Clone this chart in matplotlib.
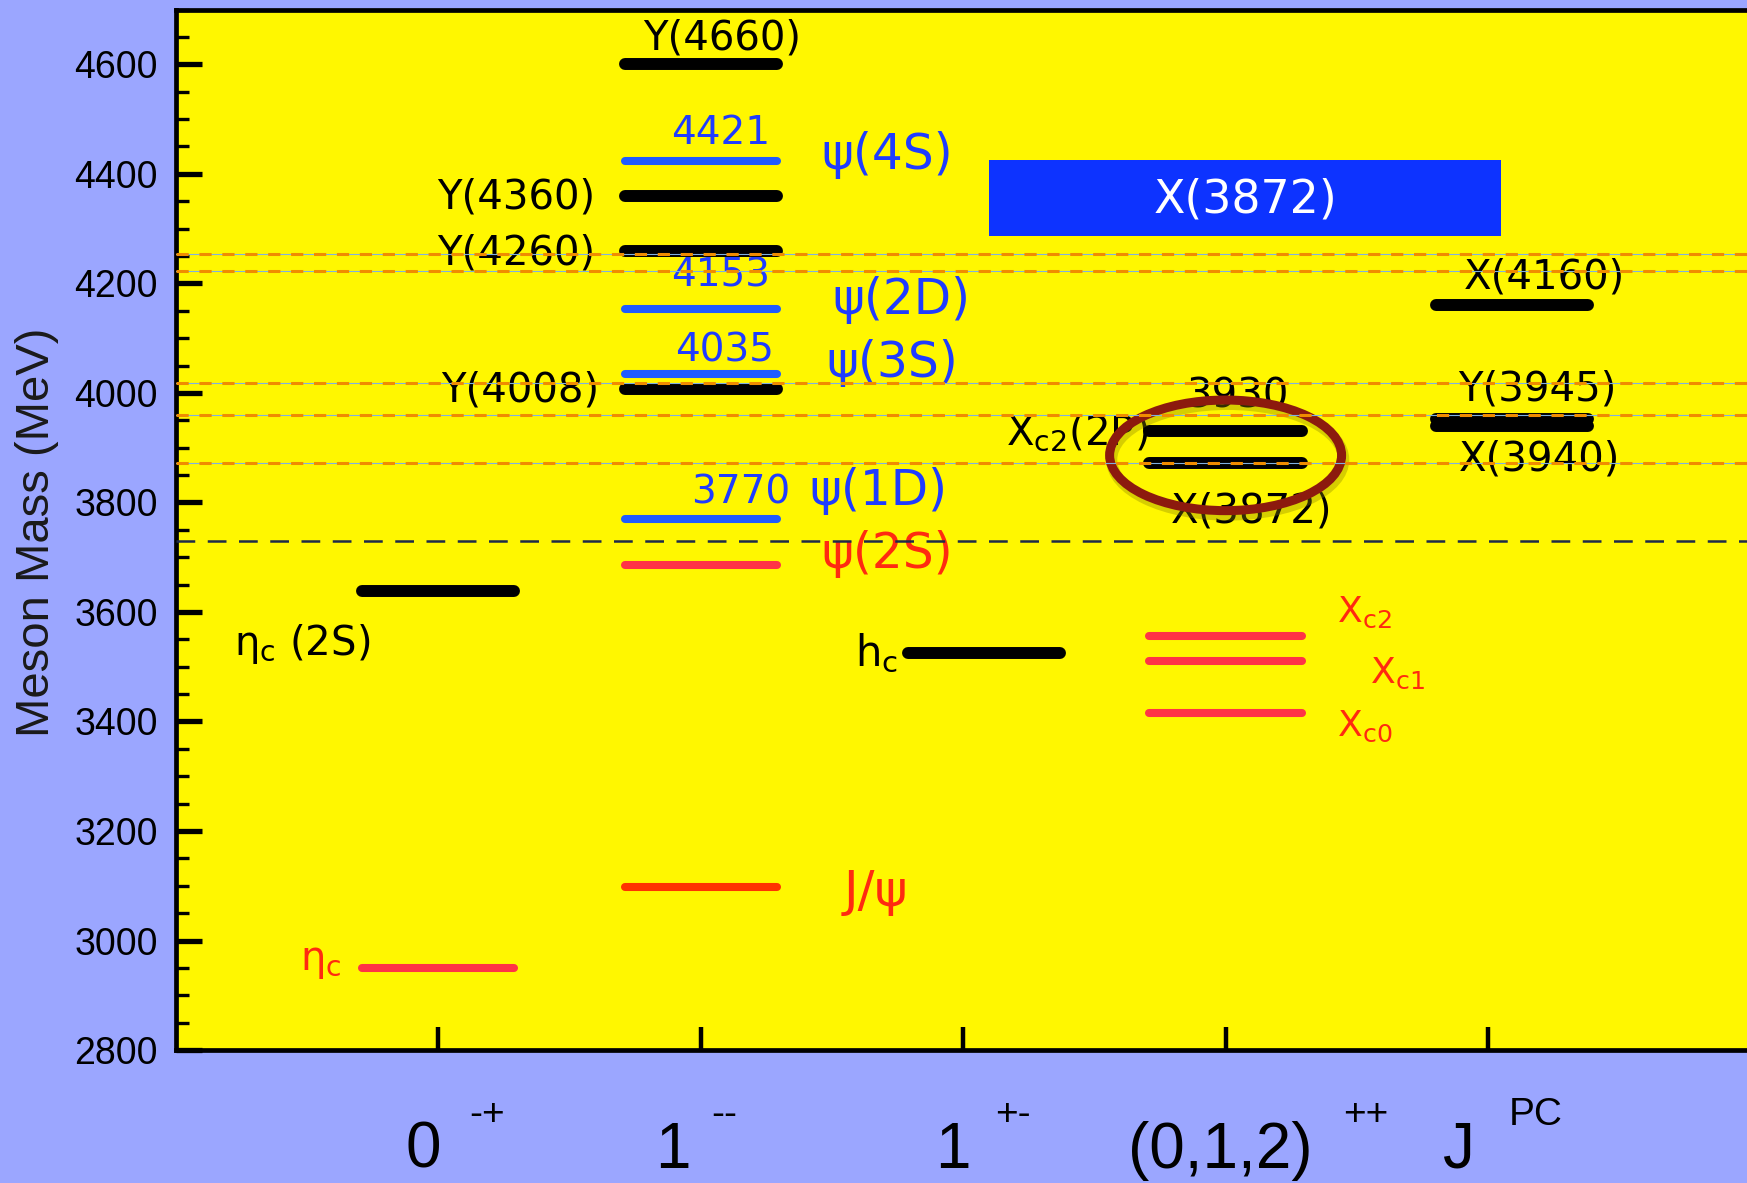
import matplotlib
matplotlib.use("Agg")
import matplotlib.pyplot as plt
from matplotlib.patches import Ellipse, Rectangle
from matplotlib.ticker import MultipleLocator

plt.rcParams['font.family'] = ['DejaVu Sans']

# J^PC columns along the x axis
col_main = ["0", "1", "1", "(0,1,2)", "J"]
col_sup = ["-+", "--", "+-", "++", "PC"]

# charmonium levels: column (1..5), mass in MeV, colour group
lvl_col = [1, 1, 2, 2, 2, 2, 2, 2, 2, 2, 2, 2, 3, 4, 4, 4, 4, 4, 5, 5, 5]
lvl_mass = [2950, 3639, 3097, 3686, 3770, 4008, 4035, 4153, 4260, 4360, 4423, 4600,
            3525, 3415, 3511, 3556, 3872, 3931, 3940, 3953, 4160]
lvl_kind = ["red", "blk", "jpsi", "red", "blue", "blk", "blue", "blue", "blk", "blk", "blue", "blk",
            "blk", "red", "red", "red", "blk", "blk", "blk", "blk", "blk"]

# open-charm thresholds
thr_orange = [3872, 3960, 4018, 4223, 4253]
thr_black = 3730

# labels: text, x, y, colour, size, ha
labels = [
    ("Y(4660)", 2.08, 4648, "black", 29, "center"),
    ("4421", 2.077, 4475, "#1f3cff", 28, "center"),
    ("ψ(4S)", 2.71, 4434, "#1f3cff", 35, "center"),
    ("Y(4360)", 1.597, 4357, "black", 29, "right"),
    ("Y(4260)", 1.597, 4255, "black", 29, "right"),
    ("4153", 2.077, 4215, "#1f3cff", 28, "center"),
    ("ψ(2D)", 2.764, 4170, "#1f3cff", 35, "center"),
    ("4035", 2.09, 4078, "#1f3cff", 28, "center"),
    ("ψ(3S)", 2.73, 4054, "#1f3cff", 35, "center"),
    ("Y(4008)", 1.614, 4005, "black", 29, "right"),
    ("3770", 2.153, 3818, "#1f3cff", 28, "center"),
    ("ψ(1D)", 2.675, 3820, "#1f3cff", 35, "center"),
    ("ψ(2S)", 2.71, 3706, "#ff2a10", 35, "center"),
    ("η$_\\mathregular{c}$ (2S)", 0.48, 3542, "black", 29, "center"),
    ("h$_\\mathregular{c}$", 2.752, 3524, "black", 30, "right"),
    ("X$_\\mathregular{c2}$", 4.425, 3599, "#ff2a10", 26, "left"),
    ("X$_\\mathregular{c1}$", 4.55, 3487, "#ff2a10", 26, "left"),
    ("X$_\\mathregular{c0}$", 4.425, 3391, "#ff2a10", 26, "left"),
    ("J/ψ", 2.667, 3089, "#ff2a10", 36, "center"),
    ("η$_\\mathregular{c}$", 0.552, 2963, "#ff2a10", 29, "center"),
    ("3930", 4.047, 3993, "black", 29, "center"),
    ("X$_\\mathregular{c2}$(2P)", 3.163, 3927, "black", 29, "left"),
    ("X(3872)", 4.098, 3784, "black", 29, "center"),
    ("X(4160)", 5.214, 4211, "black", 29, "center"),
    ("Y(3945)", 5.189, 4007, "black", 29, "center"),
    ("X(3940)", 5.197, 3879, "black", 29, "center"),
]

col_center = [1.0, 2.0, 3.08, 4.0, 5.09]
half_w = 0.29
styles = {"blk": ("black", 8.6), "red": ("#ff3346", 5.8),
          "jpsi": ("#ff3300", 5.8), "blue": ("#1f5bff", 5.8)}

fig = plt.figure(figsize=(17.47, 11.83), dpi=100)
fig.patch.set_facecolor("#9ba6ff")
ax = fig.add_axes([0.10074, 0.1124, 0.9012, 0.8795])
ax.set_facecolor("#fff700")
ax.set_xlim(0, 6)
ax.set_ylim(2800, 4700)

for c, m, k in zip(lvl_col, lvl_mass, lvl_kind):
    xc = col_center[c - 1]
    color, lw = styles[k]
    ax.plot([xc - half_w, xc + half_w], [m, m], color=color, lw=lw,
            solid_capstyle="round", zorder=4)

for m in thr_orange:
    ax.axhline(m, color="#7fb0e0", lw=0.8, zorder=7)
    ax.axhline(m, color="#f08c00", lw=2.2, dashes=(4, 3.5), zorder=7)
ax.axhline(thr_black, color="#1e2a4a", lw=1.8, dashes=(7.5, 5), zorder=7)

for txt, x, y, color, size, ha in labels:
    ax.text(x, y, txt, color=color, fontsize=size, ha=ha, va="center", zorder=3)

# X(3872) banner
ax.add_patch(Rectangle((3.1, 4286), 1.95, 140, facecolor="#0d33ff", edgecolor="none", zorder=5))
ax.text(4.076, 4353, "X(3872)", color="white", fontsize=33, ha="center", va="center", zorder=6)

# ring around the 3872 / 3930 pair, with a soft shadow
ax.add_patch(Ellipse((4.008, 3878), 0.884, 202, fill=False, edgecolor="#8a8200",
                     lw=8, alpha=0.35, zorder=5.5))
ax.add_patch(Ellipse((4.0, 3886), 0.884, 202, fill=False, edgecolor="#8c1a0e", lw=6.5, zorder=6))

# axes styling
for s in ["left", "bottom", "top"]:
    ax.spines[s].set_linewidth(3.4)
ax.spines["right"].set_visible(False)
ax.set_xticks([1, 2, 3, 4, 5])
ax.set_xticklabels([])
ax.yaxis.set_major_locator(MultipleLocator(200))
ax.yaxis.set_minor_locator(MultipleLocator(50))
ax.tick_params(axis="y", which="major", direction="in", length=18.7, width=3.8, pad=13,
               labelsize=27, labelfontfamily="Liberation Sans")
ax.tick_params(axis="y", which="minor", direction="in", length=9.4, width=2.4)
ax.tick_params(axis="x", which="major", direction="in", length=16.5, width=3.2)
ax.tick_params(top=False, right=False, which="both")

main_x = [0.941, 1.894, 2.961, 3.979, 4.889]
sup_x = [1.185, 2.09, 3.19, 4.533, 5.183]
for mx, sx, mt, st in zip(main_x, sup_x, col_main, col_sup):
    ax.text(mx, 2585, mt, fontsize=46, family="Liberation Sans", ha="center",
            va="baseline", clip_on=False)
    ax.text(sx, 2664, st, fontsize=28, family="Liberation Sans", ha="center",
            va="baseline", clip_on=False)

fig.text(37 / 1747, 0.5498, "Meson Mass (MeV)", rotation=90, fontsize=34,
         family="Liberation Sans", color="#1a1a1a", ha="center", va="center")

fig.savefig("out.png", dpi=100, facecolor=fig.get_facecolor())
